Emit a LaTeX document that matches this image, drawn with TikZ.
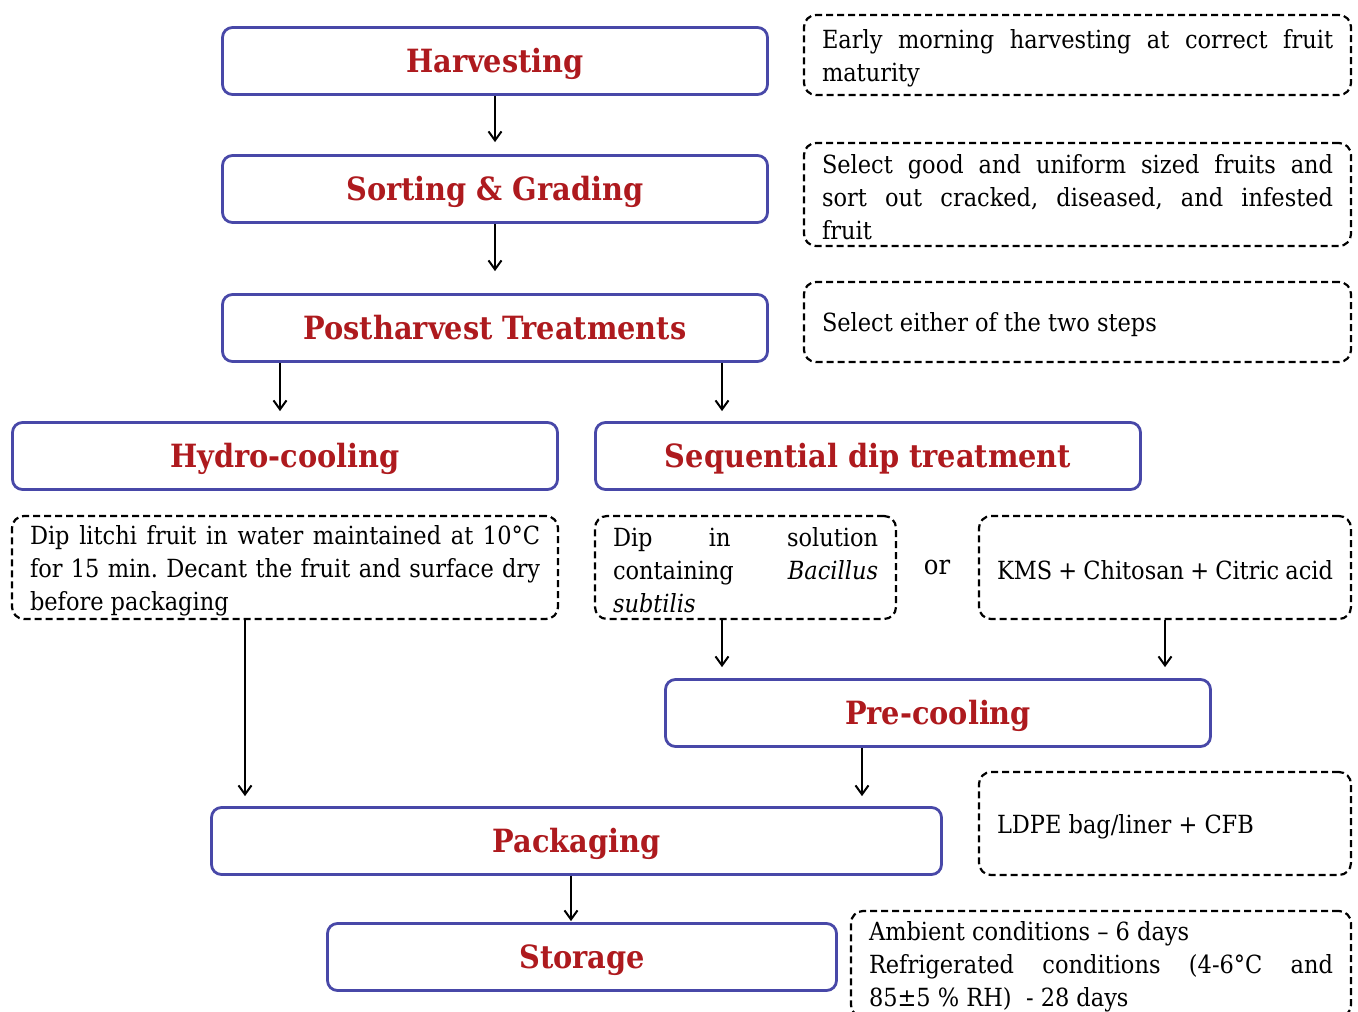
\documentclass[tikz,border=0pt]{standalone}
\usepackage{fontspec}
\setmainfont{DejaVu Serif Condensed}
\usetikzlibrary{arrows.meta}
\definecolor{boxblue}{RGB}{72,72,168}
\definecolor{titlered}{RGB}{174,26,30}
\newcommand{\titlefont}{\fontsize{32}{38}\selectfont\bfseries}
\newcommand{\bodyfont}{\fontsize{25}{33}\selectfont\frenchspacing}
\tikzset{
  stage/.style={draw=boxblue, line width=2.8pt, rounded corners=10pt, minimum height=67pt, font=\titlefont, text=titlered, inner sep=0pt, text height=30pt, text depth=8pt},
  note/.style={draw=black, line width=2.2pt, dash pattern=on 7pt off 4pt, rounded corners=12pt, inner xsep=18pt, inner ysep=0pt, align=justify, font=\bodyfont, text height=25pt},
  arr/.style={-{Straight Barb[length=9pt,width=13pt,line width=2pt]}, line width=2.4pt},
}
\begin{document}
\begin{tikzpicture}[x=1pt,y=-1pt]
\useasboundingbox[fill=white] (0,0) rectangle (1358,1012);
% stages
\node[stage, minimum width=545pt] (harv) at (495,61) {Harvesting};
\node[stage, minimum width=545pt] (sort) at (495,189) {Sorting \& Grading};
\node[stage, minimum width=545pt] (post) at (495,328) {Postharvest Treatments};
\node[stage, minimum width=545pt] (hydro) at (285,456) {Hydro-cooling};
\node[stage, minimum width=545pt] (seq) at (868,456) {Sequential dip treatment};
\node[stage, minimum width=545pt] (pre) at (938,713) {Pre-cooling};
\node[stage, minimum width=730pt] (pack) at (576.5,841) {Packaging};
\node[stage, minimum width=509pt] (stor) at (582,957) {Storage};
% notes
\node[note, minimum width=547pt, minimum height=80pt, text width=511pt] (n1) at (1077.5,55)
  {Early morning harvesting at correct fruit\linebreak maturity};
\node[note, minimum width=547pt, minimum height=103pt, text width=511pt] (n2) at (1077.5,194.5)
  {Select good and uniform sized fruits and\linebreak sort out cracked, diseased, and infested\linebreak fruit};
\node[note, minimum width=547pt, minimum height=80pt, text width=511pt] (n3) at (1077.5,322)
  {Select either of the two steps};
\node[note, minimum width=546pt, minimum height=103pt, text width=510pt] (dl) at (285,567.5)
  {Dip litchi fruit in water maintained at 10°C\linebreak for 15 min. Decant the fruit and surface dry\linebreak before packaging};
\node[note, minimum width=301pt, minimum height=103pt, text width=265pt] (ds) at (745.5,567.5)
  {Dip in solution\linebreak containing \textit{Bacillus}\linebreak \textit{subtilis}};
\node[font=\fontsize{27}{33}\selectfont] (or) at (937,567) {or};
\node[note, minimum width=372pt, minimum height=103pt, text width=336pt] (kms) at (1165,567.5)
  {KMS + Chitosan + Citric acid};
\node[note, minimum width=372pt, minimum height=103pt, text width=336pt] (ldpe) at (1165,823.5)
  {LDPE bag/liner + CFB};
\node[note, minimum width=500pt, minimum height=106pt, text width=464pt] (amb) at (1101,964)
  {Ambient conditions -- 6 days\newline Refrigerated conditions (4-6°C and\linebreak 85±5 \% RH)\ \ - 28 days};
% arrow x positions
\coordinate (x1) at (280,0);
\coordinate (x2) at (722,0);
\coordinate (x3) at (245,0);
\coordinate (x4) at (1165,0);
\coordinate (x5) at (862,0);
\coordinate (x6) at (571,0);
% arrows
\draw[arr, shorten >=12pt] (harv) -- (sort);
\draw[arr, shorten >=22pt] (sort) -- (post);
\draw[arr, shorten >=10pt] (post.south -| x1) -- (hydro.north -| x1);
\draw[arr, shorten >=10pt] (post.south -| x2) -- (seq.north -| x2);
\draw[arr, shorten >=10pt] (dl.south -| x3) -- (pack.north -| x3);
\draw[arr, shorten >=11pt] (ds.south -| x2) -- (pre.north -| x2);
\draw[arr, shorten >=11pt] (kms.south -| x4) -- (pre.north -| x4);
\draw[arr, shorten >=10pt] (pre.south -| x5) -- (pack.north -| x5);
\draw[arr, shorten >=1pt] (pack.south -| x6) -- (stor.north -| x6);
\end{tikzpicture}
\end{document}
